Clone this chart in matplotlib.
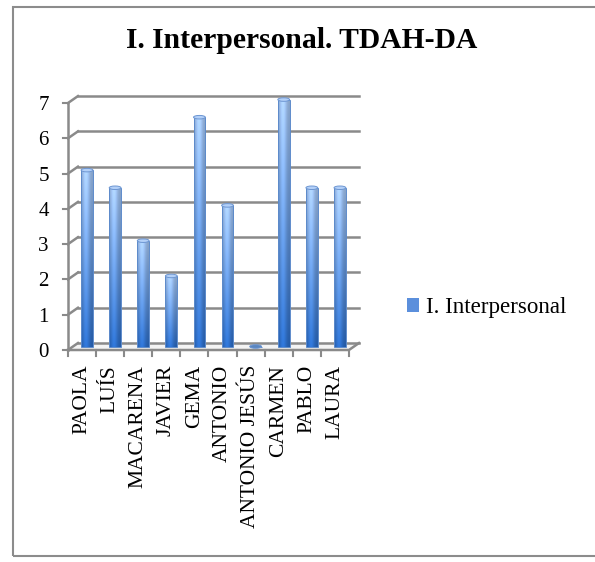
import matplotlib
matplotlib.use('Agg')
import matplotlib.pyplot as plt
import numpy as np
from matplotlib.patches import Patch, Ellipse, Rectangle

# data
names = ['PAOLA', 'LUÍS', 'MACARENA', 'JAVIER', 'GEMA', 'ANTONIO',
         'ANTONIO JESÚS', 'CARMEN', 'PABLO', 'LAURA']
values = [5, 4.5, 3, 2, 6.5, 4, 0, 7, 4.5, 4.5]
y_ticks = [0, 1, 2, 3, 4, 5, 6, 7]
title = 'I. Interpersonal. TDAH-DA'
series = 'I. Interpersonal'

serif = ['Liberation Serif', 'DejaVu Serif']
grid_c = '#8a8a8a'

W, H = 595, 562
fig = plt.figure(figsize=(W / 100, H / 100), dpi=100)

# outer chart border (right edge runs off the canvas)
fig.patches.append(Rectangle((13 / W, 1 - 556 / H), 600 / W, 549 / H,
                             transform=fig.transFigure, fill=False,
                             edgecolor='#8c8c8c', linewidth=1.5))

ax = fig.add_axes([60 / W, 1 - 362 / H, 310 / W, 272 / H])
ax.set_xlim(-0.961, 10.07)
ax.set_ylim(-0.34, 7.37)
for s in ax.spines.values():
    s.set_visible(False)

dx, dy = 0.356, 0.198   # 3d depth offset
x0f, x1f = -0.5 - dx / 2, len(names) - 0.5 - dx / 2
x0b, x1b = x0f + dx, x1f + dx

# back wall gridlines + side diagonals
for v in y_ticks:
    ax.plot([x0b, x1b], [v + dy, v + dy], color=grid_c, lw=1.8, zorder=1)
    ax.plot([x0f, x0b], [v, v + dy], color=grid_c, lw=1.8, zorder=1)
    ax.plot([x0f - 0.17, x0f], [v, v], color=grid_c, lw=1.5, zorder=1)
# front vertical axis
ax.plot([x0f, x0f], [0, y_ticks[-1]], color=grid_c, lw=1.8, zorder=1)
# floor
ax.fill([x0f, x1f, x1b, x0b], [0, 0, dy, dy], color='#f4f4f4', zorder=0.5)
ax.plot([x0f, x1f, x1b], [0, 0, dy], color=grid_c, lw=1.8, zorder=1)
for i in range(len(names) + 1):
    xt = i - 0.5 - dx / 2
    ax.plot([xt, xt], [0, -0.17], color=grid_c, lw=1.5, zorder=1)

# gradient for the cylinders
gh, gw = 120, 40
t = np.linspace(0, 1, gh)[:, None]
sx = np.linspace(0, 1, gw)[None, :]
bottom_c = np.array([45, 112, 205]) / 255
top_c = np.array([168, 203, 250]) / 255
base = bottom_c[None, None, :] * (1 - t[..., None]) + top_c[None, None, :] * t[..., None]
mult = 0.8 + 0.28 * np.exp(-((sx - 0.42) / 0.3) ** 2)
grad = np.clip(base * mult[..., None], 0, 1)

bw = 0.42
x = np.arange(len(names))
bars = ax.bar(x, values, width=bw, bottom=dy / 2, color='none',
              edgecolor='#5d8bcb', linewidth=0.7, zorder=2.5)
for b, v in zip(bars, values):
    bx, by = b.get_x(), b.get_y()
    if v > 0:
        im = ax.imshow(grad, extent=[bx, bx + bw, by, by + v], origin='lower',
                       aspect='auto', zorder=2, interpolation='bilinear')
        im.set_clip_path(b)
    cap = Ellipse((bx + bw / 2, by + v), bw, 0.1,
                  facecolor='#b3d0f8' if v > 0 else '#5a86c0',
                  edgecolor='#6d96d2', lw=0.7, zorder=3)
    ax.add_patch(cap)

ax.set_yticks(y_ticks)
ax.set_yticklabels([str(v) for v in y_ticks], family=serif, fontsize=15)
ax.set_xticks(x - dx / 2)
ax.set_xticklabels(names, rotation=90, family=serif, fontsize=15.5,
                   va='top', ha='center')
ax.tick_params(axis='both', length=0)
ax.tick_params(axis='y', pad=8)
ax.tick_params(axis='x', pad=2)

fig.text(302 / W, 1 - 41 / H, title, family=serif, fontsize=21.3,
         fontweight='bold', ha='center', va='center')

fig.legend(handles=[Patch(facecolor='#5b8fdc', edgecolor='none')],
           labels=[series], loc='center left',
           bbox_to_anchor=(386 / W, 1 - 308 / H), frameon=False,
           handlelength=0.55, handleheight=0.55, handletextpad=0.3,
           prop={'family': serif, 'size': 16.6})

fig.savefig('out.png', dpi=100)
plt.close()
